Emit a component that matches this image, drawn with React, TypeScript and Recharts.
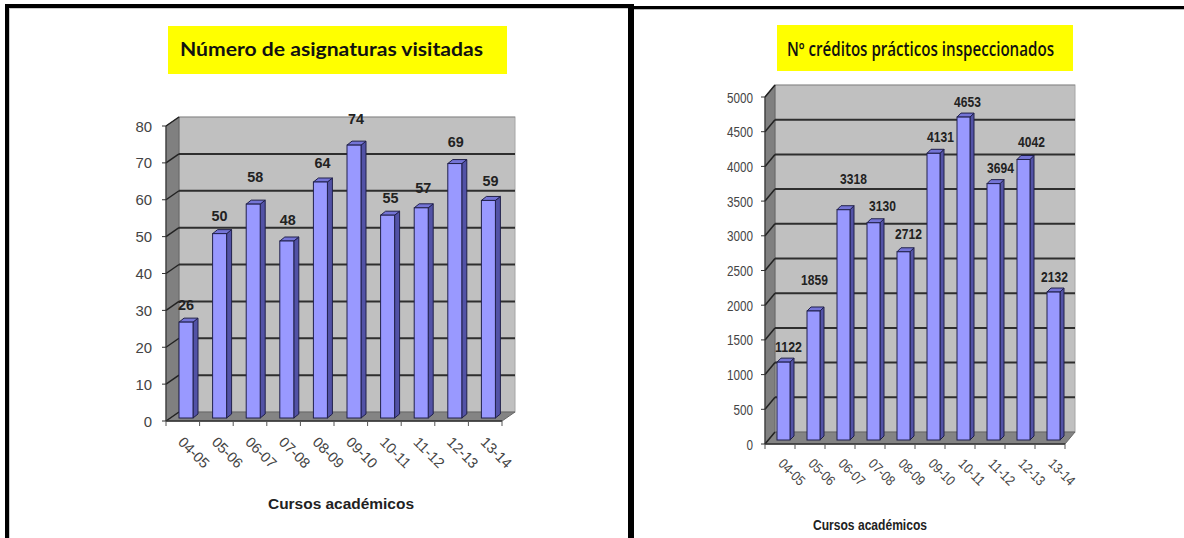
import React from 'react';
import { BarChart, Bar, XAxis, YAxis, LabelList, ReferenceArea } from 'recharts';

const courses = ['04-05', '05-06', '06-07', '07-08', '08-09', '09-10', '10-11', '11-12', '12-13', '13-14'];
const subjectsVisited = [26, 50, 58, 48, 64, 74, 55, 57, 69, 59];
const creditsInspected = [1122, 1859, 3318, 3130, 2712, 4131, 4653, 3694, 4042, 2132];
const subjectTicks = [0, 10, 20, 30, 40, 50, 60, 70, 80];
const creditTicks = [0, 500, 1000, 1500, 2000, 2500, 3000, 3500, 4000, 4500, 5000];

// labels in the source float at uneven distances from the bars
const subjectLabelLift = [18, 18, 28, 22, 20, 27, 18, 20, 22, 20];
const subjectLabelNudge = [0, 0, 2, 1, 2, 2, 3, 2, 1, 2];
const creditLabelLift = [16, 31, 31, 17, 18, 17, 16, 16, 18, 16];
const creditLabelNudge = [5, 1, 10, 9, 5, 7, 4, 7, 8, 1];

const SANS = '"Liberation Sans", Arial, sans-serif';

interface ChartProps {
  left: number;
  values: number[];
  ticks: number[];
  plot: { x: number; y: number; w: number; h: number };
  wall: { dx: number; dy: number };
  bar: { size: number; dx: number; dy: number; sideW: number; topH: number };
  lift: number[];
  nudge: number[];
  yTick: { size: number; charW: number; margin: number };
  label: { size: number; charW: number };
  xTick: { dx: number; dy: number; angle: number; size: number; length: number };
}

const PseudoBarChart: React.FC<ChartProps> = ({ left, values, ticks, plot, wall, bar, lift, nudge, yTick, label, xTick }) => {
  const rows = courses.map((name, i) => ({ name, value: values[i] }));
  const W = 620;
  const H = 538;

  const Wall = (p: any) => {
    const { x, y, width, height } = p;
    const { dx, dy } = wall;
    const bottom = y + height;
    const right = x + width;
    return (
      <g>
        <rect x={x + dx} y={y + dy} width={width} height={height} fill="#c0c0c0" stroke="#a6a6a6" />
        <polygon points={`${x},${y} ${x + dx},${y + dy} ${x + dx},${bottom + dy} ${x},${bottom}`} fill="#808080" stroke="#666" />
        <polygon points={`${x},${bottom} ${x + dx},${bottom + dy} ${right + dx},${bottom + dy} ${right},${bottom}`} fill="#848484" stroke="#666" />
        {ticks.map((t, i) => {
          const ty = bottom - (height * i) / (ticks.length - 1);
          const isTop = i === ticks.length - 1;
          return (
            <g key={t}>
              {i > 0 && <line x1={x + dx} x2={right + dx} y1={ty + dy} y2={ty + dy} stroke="#2e2e2e" strokeWidth={isTop ? 1 : 2} strokeOpacity={isTop ? 0.3 : 1} />}
              <line x1={x} x2={x + dx} y1={ty} y2={ty + dy} stroke="#222" strokeWidth={1.5} />
            </g>
          );
        })}
        <line x1={x} x2={right} y1={bottom} y2={bottom} stroke="#333" strokeWidth={1.5} />
        {courses.map((c, i) => (
          <line key={c} x1={x + (width * i) / courses.length} x2={x + (width * i) / courses.length} y1={bottom} y2={bottom + 5} stroke="#555" />
        ))}
        <line x1={right} x2={right} y1={bottom} y2={bottom + 5} stroke="#555" />
      </g>
    );
  };

  const Box3D = (p: any) => {
    const x = p.x + bar.dx;
    const y = p.y + bar.dy;
    const { width, height } = p;
    const { sideW, topH } = bar;
    return (
      <g stroke="#20204a" strokeWidth={1}>
        <polygon points={`${x + width},${y} ${x + width + sideW},${y - topH} ${x + width + sideW},${y + height - topH} ${x + width},${y + height}`} fill="#5252a6" />
        <polygon points={`${x},${y} ${x + sideW},${y - topH} ${x + width + sideW},${y - topH} ${x + width},${y}`} fill="#7474d6" />
        <rect x={x} y={y} width={width} height={height} fill="#9999ff" />
      </g>
    );
  };

  const ValueLabel = (p: any) => (
    <text
      x={p.x + p.width / 2 + bar.dx + nudge[p.index]}
      y={p.y + bar.dy - lift[p.index]}
      textAnchor="middle"
      dominantBaseline="central"
      fontFamily={SANS}
      fontWeight="bold"
      fontSize={label.size}
      fill="#222"
      textLength={String(p.value).length * label.charW}
      lengthAdjust="spacingAndGlyphs"
    >
      {p.value}
    </text>
  );

  const CourseTick = (p: any) => {
    const tx = p.x + xTick.dx;
    const ty = p.y + xTick.dy;
    return (
      <text
        x={tx}
        y={ty}
        transform={`rotate(${xTick.angle} ${tx} ${ty})`}
        fontFamily={SANS}
        fontSize={xTick.size}
        fill="#444"
        textLength={xTick.length}
        lengthAdjust="spacingAndGlyphs"
      >
        {p.payload.value}
      </text>
    );
  };

  const ValueTick = (p: any) => (
    <text
      x={p.x}
      y={p.y}
      textAnchor="end"
      dominantBaseline="central"
      fontFamily={SANS}
      fontSize={yTick.size}
      fill="#444"
      textLength={String(p.payload.value).length * yTick.charW}
      lengthAdjust="spacingAndGlyphs"
    >
      {p.payload.value}
    </text>
  );

  return (
    <div style={{ position: 'absolute', left, top: 0 }}>
      <BarChart
        width={W}
        height={H}
        data={rows}
        barSize={bar.size}
        margin={{ top: plot.y, left: plot.x - left - 60, right: W - (plot.x - left) - plot.w, bottom: H - plot.y - plot.h - 50 }}
      >
        <XAxis dataKey="name" height={50} interval={0} axisLine={false} tickLine={false} tick={<CourseTick />} />
        <YAxis
          width={60}
          domain={[0, ticks[ticks.length - 1]]}
          ticks={ticks}
          interval={0}
          stroke="#333"
          tickSize={4}
          tickMargin={yTick.margin}
          tick={<ValueTick />}
        />
        <ReferenceArea y1={0} y2={ticks[ticks.length - 1]} shape={Wall} />
        <Bar dataKey="value" shape={Box3D} isAnimationActive={false}>
          <LabelList dataKey="value" content={ValueLabel} />
        </Bar>
      </BarChart>
    </div>
  );
};

const Overlay: React.FC = () => (
  <svg width={1184} height={538} style={{ position: 'absolute', left: 0, top: 0, pointerEvents: 'none' }}>
    <rect x={168} y={26} width={339} height={48} fill="#ffff00" />
    <rect x={777} y={25} width={296} height={46} fill="#ffff00" />
    <text x={180} y={56} fontFamily="Lato, sans-serif" fontWeight="bold" fontSize={19} fill="#111" textLength={303} lengthAdjust="spacingAndGlyphs">
      Número de asignaturas visitadas
    </text>
    <text x={787} y={56} fontFamily="'Open Sans', sans-serif" fontWeight={600} fontSize={19} fill="#111" textLength={267} lengthAdjust="spacingAndGlyphs">
      Nº créditos prácticos inspeccionados
    </text>
    <text x={268} y={509} fontFamily={SANS} fontWeight="bold" fontSize={14} fill="#222" textLength={146} lengthAdjust="spacingAndGlyphs">
      Cursos académicos
    </text>
    <text x={813} y={530} fontFamily={SANS} fontWeight="bold" fontSize={15} fill="#222" textLength={114} lengthAdjust="spacingAndGlyphs">
      Cursos académicos
    </text>
    <rect x={5} y={4} width={625} height={4} fill="#000" />
    <rect x={5} y={4} width={4} height={534} fill="#000" />
    <rect x={628} y={4} width={6} height={534} fill="#000" />
    <rect x={634} y={6} width={550} height={3} fill="#000" />
    <rect x={9} y={8} width={619} height={1} fill="#ccc" />
    <rect x={9} y={8} width={1} height={530} fill="#ccc" />
    <rect x={634} y={9} width={550} height={1} fill="#bbb" />
  </svg>
);

export default function App() {
  return (
    <div style={{ position: 'absolute', left: 0, top: 0, width: 1184, height: 538, overflow: 'hidden', background: '#fff' }}>
      <PseudoBarChart
        left={0}
        values={subjectsVisited}
        ticks={subjectTicks}
        plot={{ x: 166, y: 126, w: 336, h: 295 }}
        wall={{ dx: 13, dy: -9 }}
        bar={{ size: 14, dx: 3, dy: -3, sideW: 5, topH: 4 }}
        lift={subjectLabelLift}
        nudge={subjectLabelNudge}
        yTick={{ size: 15, charW: 8.3, margin: 10 }}
        label={{ size: 15, charW: 8 }}
        xTick={{ dx: -5.5, dy: 14, angle: 45, size: 14.5, length: 37 }}
      />
      <PseudoBarChart
        left={620}
        values={creditsInspected}
        ticks={creditTicks}
        plot={{ x: 765, y: 97, w: 300, h: 347 }}
        wall={{ dx: 10, dy: -12 }}
        bar={{ size: 13, dx: 3, dy: -4, sideW: 4, topH: 4 }}
        lift={creditLabelLift}
        nudge={creditLabelNudge}
        yTick={{ size: 15, charW: 6.5, margin: 8 }}
        label={{ size: 15, charW: 6.7 }}
        xTick={{ dx: -2.5, dy: 12.5, angle: 45, size: 14, length: 31 }}
      />
      <Overlay />
    </div>
  );
}
